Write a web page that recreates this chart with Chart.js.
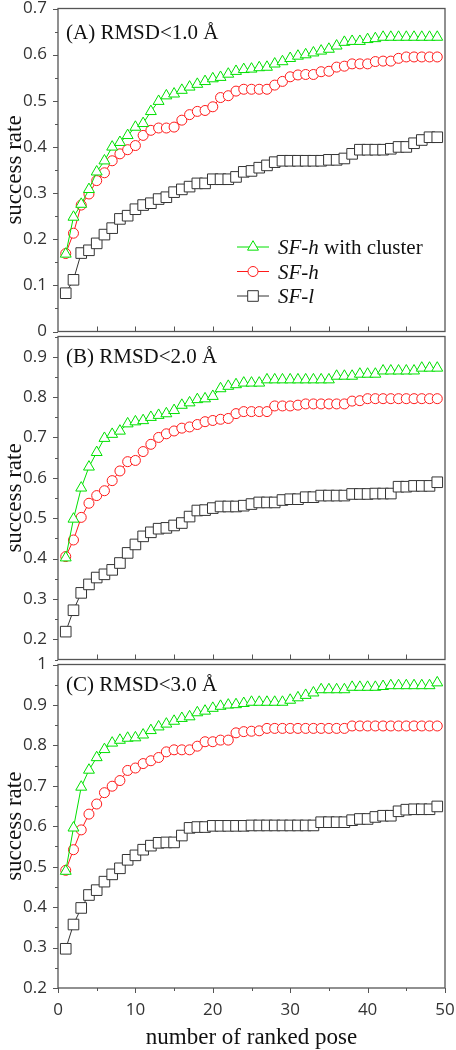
<!DOCTYPE html>
<html>
<head>
<meta charset="utf-8">
<script src="https://cdn.jsdelivr.net/npm/chart.js@4.4.0/dist/chart.umd.min.js"></script>
<style>
  html, body { margin: 0; padding: 0; background: #fff; }
  #wrap { position: relative; width: 456px; height: 1050px; }
  canvas { position: absolute; left: 0; }
</style>
</head>
<body>
<div id="wrap">
  <canvas id="chartA" width="456" height="340" style="top:0px"></canvas>
  <canvas id="chartB" width="456" height="340" style="top:328px"></canvas>
  <canvas id="chartC" width="456" height="394" style="top:656px"></canvas>
</div>
<script>
// number of ranked pose
var poses = [1, 2, 3, 4, 5, 6, 7, 8, 9, 10, 11, 12, 13, 14, 15, 16, 17, 18, 19, 20,
  21, 22, 23, 24, 25, 26, 27, 28, 29, 30, 31, 32, 33, 34, 35, 36, 37, 38, 39, 40,
  41, 42, 43, 44, 45, 46, 47, 48, 49];
var xTicks = [0, 10, 20, 30, 40, 50];
var yTicksA = [0, 0.1, 0.2, 0.3, 0.4, 0.5, 0.6, 0.7];
var yTicksB = [0.2, 0.3, 0.4, 0.5, 0.6, 0.7, 0.8, 0.9];
var yTicksC = [0.2, 0.3, 0.4, 0.5, 0.6, 0.7, 0.8, 0.9, 1];
var seriesNames = ['SF-h with cluster', 'SF-h', 'SF-l'];
var panelTitles = ['(A) RMSD<1.0 Å', '(B) RMSD<2.0 Å', '(C) RMSD<3.0 Å'];

// (A) RMSD < 1.0
var clusterA = [0.168, 0.248, 0.276, 0.308, 0.346, 0.370, 0.400, 0.410, 0.425, 0.443,
  0.451, 0.477, 0.499, 0.511, 0.515, 0.523, 0.530, 0.536, 0.542, 0.548,
  0.551, 0.558, 0.564, 0.568, 0.569, 0.572, 0.573, 0.580, 0.585, 0.592,
  0.597, 0.600, 0.604, 0.608, 0.612, 0.619, 0.627, 0.629, 0.629, 0.633,
  0.635, 0.638, 0.638, 0.638, 0.638, 0.638, 0.638, 0.638, 0.638];
var sfhA = [0.169, 0.213, 0.274, 0.298, 0.327, 0.344, 0.370, 0.385, 0.394, 0.403,
  0.425, 0.436, 0.441, 0.441, 0.443, 0.458, 0.470, 0.477, 0.479, 0.487,
  0.507, 0.511, 0.521, 0.525, 0.525, 0.525, 0.525, 0.534, 0.542, 0.552,
  0.556, 0.557, 0.557, 0.563, 0.564, 0.573, 0.575, 0.580, 0.580, 0.580,
  0.585, 0.586, 0.586, 0.592, 0.595, 0.595, 0.595, 0.595, 0.595];
var sflA = [0.083, 0.112, 0.170, 0.176, 0.191, 0.210, 0.224, 0.244, 0.251, 0.265,
  0.274, 0.278, 0.287, 0.291, 0.302, 0.308, 0.314, 0.321, 0.321, 0.330,
  0.330, 0.330, 0.335, 0.346, 0.348, 0.355, 0.360, 0.367, 0.370, 0.370,
  0.370, 0.370, 0.370, 0.370, 0.372, 0.372, 0.375, 0.385, 0.394, 0.394,
  0.394, 0.394, 0.396, 0.400, 0.400, 0.408, 0.415, 0.421, 0.421];

// (B) RMSD < 2.0
var clusterB = [0.402, 0.498, 0.575, 0.627, 0.663, 0.698, 0.708, 0.716, 0.734, 0.739,
  0.742, 0.750, 0.755, 0.759, 0.767, 0.780, 0.786, 0.794, 0.796, 0.802,
  0.821, 0.827, 0.831, 0.835, 0.835, 0.835, 0.843, 0.843, 0.843, 0.843,
  0.843, 0.843, 0.843, 0.843, 0.843, 0.852, 0.852, 0.852, 0.857, 0.857,
  0.857, 0.865, 0.865, 0.865, 0.865, 0.865, 0.872, 0.872, 0.872];
var sfhB = [0.405, 0.446, 0.502, 0.537, 0.556, 0.568, 0.593, 0.617, 0.640, 0.643,
  0.665, 0.683, 0.700, 0.709, 0.716, 0.723, 0.726, 0.732, 0.739, 0.742,
  0.745, 0.747, 0.759, 0.764, 0.764, 0.764, 0.764, 0.778, 0.778, 0.778,
  0.780, 0.783, 0.783, 0.783, 0.783, 0.783, 0.783, 0.790, 0.791, 0.796,
  0.796, 0.796, 0.796, 0.796, 0.796, 0.796, 0.796, 0.796, 0.796];
var sflB = [0.219, 0.272, 0.315, 0.336, 0.353, 0.361, 0.372, 0.389, 0.414, 0.435,
  0.455, 0.465, 0.474, 0.476, 0.482, 0.488, 0.504, 0.519, 0.520, 0.525,
  0.529, 0.529, 0.529, 0.531, 0.535, 0.539, 0.539, 0.539, 0.545, 0.547,
  0.547, 0.552, 0.552, 0.556, 0.556, 0.556, 0.556, 0.560, 0.560, 0.560,
  0.561, 0.561, 0.561, 0.578, 0.578, 0.580, 0.580, 0.580, 0.589];

// (C) RMSD < 3.0
var clusterC = [0.489, 0.596, 0.697, 0.739, 0.770, 0.790, 0.806, 0.813, 0.818, 0.819,
  0.826, 0.837, 0.846, 0.853, 0.860, 0.867, 0.871, 0.881, 0.885, 0.892,
  0.897, 0.900, 0.901, 0.904, 0.907, 0.907, 0.907, 0.907, 0.907, 0.912,
  0.918, 0.924, 0.930, 0.938, 0.938, 0.938, 0.938, 0.944, 0.944, 0.944,
  0.944, 0.946, 0.948, 0.948, 0.948, 0.948, 0.948, 0.948, 0.955];
var sfhC = [0.491, 0.542, 0.591, 0.630, 0.655, 0.683, 0.699, 0.713, 0.738, 0.744,
  0.755, 0.762, 0.770, 0.784, 0.789, 0.789, 0.789, 0.798, 0.809, 0.809,
  0.813, 0.813, 0.831, 0.834, 0.835, 0.836, 0.842, 0.842, 0.842, 0.842,
  0.842, 0.842, 0.842, 0.842, 0.842, 0.842, 0.842, 0.848, 0.848, 0.848,
  0.848, 0.848, 0.848, 0.848, 0.848, 0.848, 0.848, 0.848, 0.848];
var sflC = [0.297, 0.357, 0.398, 0.430, 0.442, 0.463, 0.481, 0.496, 0.517, 0.528,
  0.542, 0.552, 0.559, 0.560, 0.560, 0.577, 0.596, 0.598, 0.598, 0.601,
  0.601, 0.601, 0.601, 0.601, 0.602, 0.602, 0.602, 0.602, 0.602, 0.602,
  0.602, 0.602, 0.602, 0.610, 0.610, 0.610, 0.610, 0.615, 0.618, 0.618,
  0.623, 0.626, 0.626, 0.637, 0.641, 0.642, 0.642, 0.642, 0.649];

var green = '#00e000', red = '#ff1a1a', black = '#333333';
var serif = '"Liberation Serif", "Times New Roman", serif';
var sans = '"Open Sans", "DejaVu Sans", sans-serif';

function series(label, values, color, style, radius) {
  return {
    label: label,
    data: poses.map(function (p, i) { return { x: p, y: values[i] }; }),
    borderColor: color,
    borderWidth: 1,
    pointStyle: style,
    pointRadius: radius,
    pointBorderColor: color,
    pointBackgroundColor: '#ffffff',
    pointBorderWidth: 1,
    tension: 0,
    fill: false
  };
}

// frame, tick marks, panel title and legend
var framePlugin = {
  id: 'frame',
  afterDraw: function (chart, args, opts) {
    var ctx = chart.ctx, a = chart.chartArea;
    var xs = chart.scales.x, ys = chart.scales.y;
    ctx.save();
    ctx.strokeStyle = '#555';
    ctx.lineWidth = 1.3;
    ctx.strokeRect(a.left, a.top, a.right - a.left, a.bottom - a.top);

    ctx.lineWidth = 1;
    ctx.beginPath();
    for (var k = Math.round(ys.min * 20); k <= Math.round(ys.max * 20); k++) {
      var y = Math.round(ys.getPixelForValue(k / 20)) + 0.5;
      var len = k % 2 === 0 ? 5 : 3;
      ctx.moveTo(a.left - len, y);
      ctx.lineTo(a.left, y);
    }
    for (var j = 0; j <= 10; j++) {
      var x = Math.round(xs.getPixelForValue(j * 5)) + 0.5;
      if (opts.bottomAxis) {
        len = j % 2 === 0 ? 5 : 3;
        ctx.moveTo(x, a.bottom);
        ctx.lineTo(x, a.bottom + len);
      } else if (j > 0 && j < 10) {
        ctx.moveTo(x, a.bottom);
        ctx.lineTo(x, a.bottom - 5);
      }
    }
    ctx.stroke();

    ctx.fillStyle = '#111';
    ctx.textAlign = 'left';
    ctx.textBaseline = 'alphabetic';
    ctx.font = '21px ' + serif;
    ctx.fillText(opts.title, a.left + 8, a.top + opts.titleDy);

    if (opts.legend) {
      chart.data.datasets.forEach(function (ds, i) {
        var lx = 237, ly = 247 + i * 24.5;
        ctx.strokeStyle = ds.borderColor;
        ctx.lineWidth = 1;
        ctx.beginPath();
        ctx.moveTo(lx, ly);
        ctx.lineTo(lx + 32, ly);
        ctx.stroke();
        ctx.fillStyle = '#ffffff';
        Chart.helpers.drawPoint(ctx, { pointStyle: ds.pointStyle, radius: ds.pointRadius, borderWidth: 1, rotation: 0 }, lx + 16, ly);
        var words = ds.label.split(' ');
        var head = words[0], rest = words.slice(1).join(' ');
        ctx.fillStyle = '#111';
        ctx.font = 'italic 21px ' + serif;
        ctx.fillText(head, lx + 41, ly + 7);
        if (rest) {
          var w = ctx.measureText(head).width;
          ctx.font = '21px ' + serif;
          ctx.fillText(' ' + rest, lx + 41 + w, ly + 7);
        }
      });
    }
    ctx.restore();
  }
};

function makeChart(id, cfg) {
  var ctx = document.getElementById(id).getContext('2d');
  return new Chart(ctx, {
    type: 'line',
    data: {
      datasets: [
        series(seriesNames[0], cfg.cluster, green, 'triangle', 6.3),
        series(seriesNames[1], cfg.sfh, red, 'circle', 5),
        series(seriesNames[2], cfg.sfl, black, 'rect', 7.5)
      ]
    },
    plugins: [framePlugin],
    options: {
      responsive: false,
      animation: false,
      devicePixelRatio: 1,
      layout: { padding: { left: 0, right: 11, top: cfg.padTop, bottom: cfg.padBottom } },
      plugins: {
        legend: { display: false },
        tooltip: { enabled: false },
        frame: { title: cfg.title, titleDy: cfg.titleDy, legend: cfg.legend, bottomAxis: cfg.bottomAxis }
      },
      scales: {
        x: {
          type: 'linear',
          min: 0,
          max: 50,
          display: cfg.bottomAxis,
          grid: { display: false, drawTicks: false },
          border: { display: false },
          ticks: { padding: 12, color: '#333', font: { family: sans, size: 17 }, maxRotation: 0, autoSkip: false },
          afterBuildTicks: function (s) { s.ticks = xTicks.map(function (v) { return { value: v }; }); },
          afterFit: function (s) {
            s.height = cfg.bottomAxis ? 62 : 0;
            s.paddingLeft = 0;
            s.paddingRight = 0;
          },
          title: {
            display: true,
            text: 'number of ranked pose',
            color: '#111',
            font: { family: serif, size: 23, lineHeight: 1 },
            padding: { top: 0, bottom: 1 }
          }
        },
        y: {
          type: 'linear',
          min: cfg.min,
          max: cfg.max,
          grid: { display: false, drawTicks: false },
          border: { display: false },
          ticks: {
            padding: 11,
            color: '#333',
            autoSkip: false,
            font: { family: sans, size: 17 },
            callback: function (v) { return String(+Number(v).toFixed(1)); }
          },
          afterBuildTicks: function (s) { s.ticks = cfg.yTicks.map(function (v) { return { value: v }; }); },
          afterFit: function (s) {
            s.width = 58;
            s.paddingTop = 0;
            s.paddingBottom = 0;
          },
          title: {
            display: true,
            text: 'success rate',
            color: '#111',
            font: { family: serif, size: 23, lineHeight: 1.2 },
            padding: { top: 1, bottom: 0 }
          }
        }
      }
    }
  });
}

makeChart('chartA', {
  cluster: clusterA, sfh: sfhA, sfl: sflA, yTicks: yTicksA, min: 0, max: 0.7,
  padTop: 8, padBottom: 6, title: panelTitles[0], titleDy: 30, legend: true, bottomAxis: false
});
makeChart('chartB', {
  cluster: clusterB, sfh: sfhB, sfl: sflB, yTicks: yTicksB, min: 0.15, max: 0.95,
  padTop: 6, padBottom: 6, title: panelTitles[1], titleDy: 26, legend: false, bottomAxis: false
});
makeChart('chartC', {
  cluster: clusterC, sfh: sfhC, sfl: sflC, yTicks: yTicksC, min: 0.2, max: 1.0,
  padTop: 6, padBottom: 0, title: panelTitles[2], titleDy: 26, legend: false, bottomAxis: true
});
</script>
</body>
</html>
